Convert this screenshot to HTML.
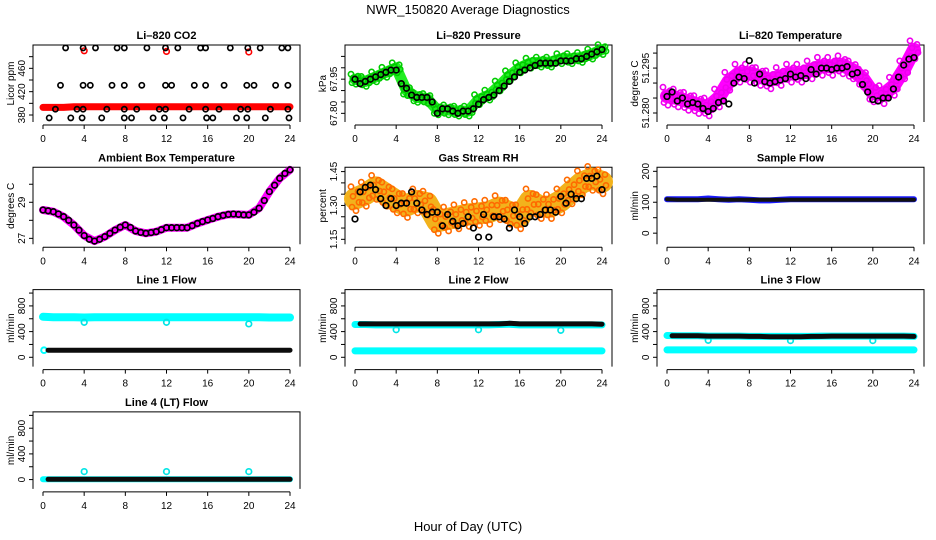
<!DOCTYPE html>
<html><head><meta charset="utf-8">
<style>
html,body{margin:0;padding:0;background:#fff;}
svg{display:block;font-family:"Liberation Sans",Arial,sans-serif;}
</style></head>
<body>
<svg id="fig" width="936" height="540" viewBox="0 0 936 540" xmlns="http://www.w3.org/2000/svg">
<text x="468" y="14" text-anchor="middle" font-size="13">NWR_150820  Average Diagnostics</text>
<text x="468" y="531" text-anchor="middle" font-size="13">Hour of Day (UTC)</text>
</svg>
<script>
// ---- shared data ----
const xTicks = [0,4,8,12,16,20,24];
const hours = [0,1,2,3,4,5,6,7,8,9,10,11,12,13,14,15,16,17,18,19,20,21,22,23,24];
const halfHours = [0,0.5,1,1.5,2,2.5,3,3.5,4,4.5,5,5.5,6,6.5,7,7.5,8,8.5,9,9.5,10,10.5,11,11.5,12,12.5,13,13.5,14,14.5,15,15.5,16,16.5,17,17.5,18,18.5,19,19.5,20,20.5,21,21.5,22,22.5,23,23.5,24];

// CO2
const co2Red = [393,393,393,394,394,394,394,394,394,394,394,394,394,394,394,394,394,394,394,394,394,394,394,394,394];
const co2RedSpikeT = [4,12,20];
const co2RedSpikeV = [490,489,488];
const co2BlackT = [2.2,3.9,5.1,7.2,7.9,10.1,11.9,13.1,15.3,15.8,18.2,19.9,21.1,23.2,23.8,
 1.7,3.9,4.6,6.7,7.9,9.6,11.9,12.5,14.7,15.8,17.6,19.8,20.5,22.6,23.8,
 1.2,3.3,3.9,6.2,7.9,9.1,11.3,11.9,14.2,15.8,17.1,19.2,19.9,22.1,23.8,
 0.6,2.7,3.8,5.7,7.9,8.6,10.7,11.8,13.6,15.9,16.5,18.8,19.8,21.6,23.9];
const co2BlackV = [495,495,495,495,495,495,495,495,495,495,495,495,495,495,495,
 431,431,431,431,431,431,431,431,431,431,431,431,431,431,431,
 390,390,390,390,390,390,390,390,390,390,390,390,390,390,390,
 375,375,375,375,375,375,375,375,375,375,375,375,375,375,375];

// Pressure
const presGreen = [67.95,67.94,67.96,67.98,68.00,67.90,67.87,67.865,67.815,67.815,67.81,67.81,67.86,67.88,67.92,67.965,68.00,68.02,68.025,68.025,68.04,68.04,68.045,68.06,68.08];
const presBlack = [67.95,67.93,67.94,67.95,67.96,67.97,67.98,67.99,67.99,67.93,67.91,67.88,67.87,67.87,67.87,67.85,67.80,67.82,67.82,67.81,67.80,67.81,67.81,67.82,67.84,67.86,67.87,67.88,67.90,67.92,67.94,67.96,67.98,67.99,68.00,68.01,68.02,68.02,68.02,68.02,68.03,68.03,68.03,68.04,68.04,68.05,68.06,68.07,68.08];

// Li-820 temperature
const tempMag = [51.2856,51.2850,51.2839,51.2828,51.2820,51.2850,51.2906,51.2933,51.2933,51.2922,51.2911,51.2922,51.2933,51.2933,51.2944,51.2956,51.2956,51.2961,51.2944,51.2917,51.2867,51.2861,51.2889,51.2944,51.3011];
const tempBlack = [51.2855,51.2870,51.2840,51.2850,51.2830,51.2835,51.2830,51.2815,51.2805,51.2815,51.2835,51.2840,51.2830,51.2900,51.2920,51.2915,51.2975,51.2900,51.2930,51.2905,51.2900,51.2905,51.2910,51.2915,51.2930,51.2920,51.2925,51.2915,51.2945,51.2930,51.2950,51.2950,51.2945,51.2950,51.2950,51.2955,51.2930,51.2935,51.2895,51.2870,51.2845,51.2840,51.2850,51.2850,51.2880,51.2920,51.2960,51.2980,51.2985];

// Ambient box temperature
const ambMag = [28.57,28.48,28.2,27.74,27.15,26.85,27.09,27.46,27.74,27.41,27.28,27.37,27.59,27.59,27.59,27.83,28.02,28.2,28.33,28.33,28.3,28.67,29.59,30.33,30.8];
const ambBlack = [28.57,28.53,28.48,28.35,28.2,28.0,27.74,27.45,27.15,26.95,26.85,26.95,27.09,27.28,27.46,27.62,27.74,27.6,27.41,27.33,27.28,27.32,27.37,27.48,27.59,27.59,27.59,27.59,27.59,27.7,27.83,27.93,28.02,28.1,28.2,28.27,28.33,28.35,28.33,28.3,28.3,28.45,28.67,29.1,29.59,29.95,30.33,30.6,30.8];

// Gas stream RH
const rhOrange = [1.33,1.35,1.38,1.35,1.32,1.30,1.32,1.31,1.23,1.24,1.25,1.26,1.265,1.27,1.29,1.27,1.25,1.32,1.295,1.295,1.32,1.36,1.40,1.42,1.405];
const rhBlack = [1.24,1.36,1.38,1.39,1.37,1.33,1.30,1.33,1.30,1.31,1.31,1.36,1.31,1.28,1.26,1.27,1.27,1.21,1.26,1.23,1.21,1.22,1.25,1.20,1.16,1.26,1.16,1.25,1.25,1.24,1.20,1.28,1.25,1.22,1.25,1.25,1.26,1.28,1.28,1.27,1.34,1.31,1.35,1.33,1.33,1.42,1.42,1.43,1.37];

// Sample flow
const sampleBlue = [110,110,110,110,112,110,108,110,108,106,106,108,110,110,110,110,110,110,110,110,110,110,110,110,110];
const sampleBlack = [110,108,108,108,108,108,108,108,108,108,108,108,108,108,108,108,108,108,108,108,108,108,108,108,108];

// Flows (mL/min)
const line1Cyan = [630,625,625,625,620,625,625,625,625,625,625,625,625,625,625,625,625,625,625,625,625,625,620,620,620];
const line1CyanLow = [110];
const line1Black = [110,110,110,110,110,110,110,110,110,110,110,110,110,110,110,110,110,110,110,110,110,110,110,110,110];
const line2Cyan = [510,510,505,505,505,505,505,505,505,505,505,505,505,505,510,515,505,505,505,505,505,505,505,505,505];
const line2CyanLow = [100,100,100,100,100,100,100,100,100,100,100,100,100,100,100,100,100,100,100,100,100,100,100,100,100];
const line2Black = [520,520,520,520,520,520,520,520,520,520,520,520,520,520,520,530,520,520,520,520,520,520,520,520,515];
const line3Cyan = [340,335,335,335,330,330,330,330,325,325,325,325,325,325,325,330,330,330,330,330,330,330,330,330,325];
const line3CyanLow = [115,115,115,115,115,115,115,115,115,115,115,115,115,115,115,115,115,115,115,115,115,115,115,115,115];
const line3Black = [335,335,335,335,330,330,330,330,325,325,320,320,320,320,325,325,330,330,330,330,330,330,330,330,325];
const line4Cyan = [5,5,5,5,5,5,5,5,5,5,5,5,5,5,5,5,5,5,5,5,5,5,5,5,5];
const line4Black = [5,5,5,5,5,5,5,5,5,5,5,5,5,5,5,5,5,5,5,5,5,5,5,5,5];
const dipT = [4,12,20];
const line1Dip = [545,545,520];
const line2Dip = [430,430,420];
const line3Dip = [265,260,260];
const line4Dip = [125,125,125];

// ---- layout ----
const NS = "http://www.w3.org/2000/svg";
const svg = document.getElementById('fig');
const colL = [33,345,657];
const boxW = 267, boxH = 77;
function rowTop(r){ return 45 + r*122.3; }

function mk(tag, attrs, parent){
  const e = document.createElementNS(NS, tag);
  for (const k in attrs) e.setAttribute(k, attrs[k]);
  (parent||svg).appendChild(e);
  return e;
}

function panel(col, row, title, ylab, ymin, ymax, yTicks, yLabels, name){
  const g = mk('g', {});
  
  
  const L = colL[col], T = rowTop(row), R = L + boxW, B = T + boxH;
  const xs = t => L + 10 + t * (247/24);
  const ys = v => B - (v - ymin) / (ymax - ymin) * boxH;
  // box: left, top, right
  const box = mk('path', {d:`M${L},${B} L${L},${T} L${R},${T} L${R},${B}`, fill:'none', stroke:'#000', 'stroke-width':1}, g);
  
  
  const tt = mk('text', {x:(L+R)/2, y:T-6, 'text-anchor':'middle', 'font-size':11, 'font-weight':'bold'}, g);
  tt.textContent = title;
  
  
  // x axis
  const ax = B + 3;
  const xa = mk('g', {}, g);
  
  
  mk('line', {x1:xs(xTicks[0]), x2:xs(xTicks[xTicks.length-1]), y1:ax, y2:ax, stroke:'#000'}, xa);
  xTicks.forEach(t => {
    mk('line', {x1:xs(t), x2:xs(t), y1:ax, y2:ax+4, stroke:'#000'}, xa);
    const lb = mk('text', {x:xs(t), y:ax+17, 'text-anchor':'middle', 'font-size':10}, xa);
    lb.textContent = t;
    
    
  });
  // y axis
  const ya = mk('g', {}, g);
  
  
  mk('line', {x1:L, x2:L, y1:ys(yTicks[0]), y2:ys(yTicks[yTicks.length-1]), stroke:'#000'}, ya);
  yTicks.forEach(v => {
    mk('line', {x1:L-4, x2:L, y1:ys(v), y2:ys(v), stroke:'#000'}, ya);
  });
  yLabels.forEach(v => {
    const lb = mk('text', {x:0, y:0, 'text-anchor':'middle', 'font-size':10, transform:`translate(${L-8},${ys(v)}) rotate(-90)`}, ya);
    lb.textContent = String(v);
    
    
  });
  const yt = mk('text', {x:0, y:0, 'text-anchor':'middle', 'font-size':10, transform:`translate(${L-19},${(T+B)/2}) rotate(-90)`}, g);
  yt.textContent = ylab;
  
  
  const clip = mk('g', {}, g);
  return {g: clip, xs, ys};
}

function band(p, ts, vs, color, w, name){
  const pts = ts.map((t,i) => `${p.xs(t).toFixed(1)},${p.ys(vs[i]).toFixed(1)}`).join(' ');
  const pl = mk('polyline', {points:pts, fill:'none', stroke:color, 'stroke-width':w, 'stroke-linejoin':'round', 'stroke-linecap':'round'}, p.g);
  
  
}
function dots(p, ts, vs, color, r, sw, name){
  const grp = mk('g', {}, p.g);
  
  
  ts.forEach((t,i) => {
    mk('circle', {cx:p.xs(t).toFixed(1), cy:p.ys(vs[i]).toFixed(1), r:r, fill:'none', stroke:color, 'stroke-width':sw}, grp);
  });
}
function texture(p, ts, vs, color, spread, name){
  const offs = [[-4,-spread],[3,-spread*0.6],[-2,-spread*0.2],[4,spread*0.3],[-3,spread*0.7],[1,spread]];
  const grp = mk('g', {}, p.g);
  
  
  ts.forEach((t,i) => {
    offs.forEach(o => {
      mk('circle', {cx:(p.xs(t)+o[0]).toFixed(1), cy:(p.ys(vs[i])+o[1]).toFixed(1), r:2.6, fill:'none', stroke:color, 'stroke-width':1.6}, grp);
    });
  });
}

// Row 1
let p = panel(0,0,'Li\u2013820 CO2','Licor ppm',368,500,[380,400,420,440,460,480],[380,420,460],'co2-panel');
band(p, hours, co2Red, '#ff0000', 7, 'co2-red-series');
dots(p, co2RedSpikeT, co2RedSpikeV, '#ff0000', 2.8, 1.6, 'co2-red-spikes');
dots(p, co2BlackT, co2BlackV, '#000', 2.6, 1.7, 'co2-black-series');

p = panel(1,0,'Li\u2013820 Pressure','kPa',67.762,68.10,[67.80,67.85,67.90,67.95,68.00,68.05],['67.80','67.95'],'pressure-panel');
band(p, hours, presGreen, '#22ee22', 11, 'pressure-green-series');
texture(p, hours, presGreen, '#00cc00', 5, 'pressure-green-points');
dots(p, halfHours, presBlack, '#000', 2.8, 1.7, 'pressure-black-series');

p = panel(2,0,'Li\u2013820 Temperature','degrees C',51.277,51.3027,[51.280,51.285,51.290,51.295,51.300],['51.280','51.295'],'temperature-panel');
band(p, hours, tempMag, '#ff00ff', 14, 'temperature-magenta-series');
texture(p, hours, tempMag, '#ee00ee', 9, 'temperature-magenta-points');
dots(p, halfHours, tempBlack, '#000', 2.8, 1.7, 'temperature-black-series');

// Row 2
p = panel(0,1,'Ambient Box Temperature','degrees C',26.67,30.94,[27,28,29,30],[27,29],'ambient-panel');
band(p, hours, ambMag, '#ff00ff', 8, 'ambient-magenta-series');
dots(p, halfHours, ambBlack, '#000', 2.8, 1.7, 'ambient-black-series');

p = panel(1,1,'Gas Stream RH','percent',1.128,1.469,[1.15,1.20,1.25,1.30,1.35,1.40,1.45],['1.15','1.30','1.45'],'rh-panel');
band(p, hours, rhOrange, '#f2b21c', 22, 'rh-orange-series');
texture(p, hours, rhOrange, '#ff6a00', 12, 'rh-orange-points');
dots(p, halfHours, rhBlack, '#000', 2.8, 1.7, 'rh-black-series');

p = panel(2,1,'Sample Flow','ml/min',-36,213,[0,50,100,150,200],[0,100,200],'sample-flow-panel');
band(p, hours, sampleBlue, '#1a1aff', 6, 'sample-blue-series');
band(p, hours, sampleBlack, '#111', 4, 'sample-black-series');

// Row 3
const flowTicks = [0,200,400,600,800,1000];
const flowLabels = [0,400,800];
p = panel(0,2,'Line 1 Flow','ml/min',-145,1054,flowTicks,flowLabels,'line1-flow-panel');
band(p, hours, line1Cyan, '#00ffff', 8, 'line1-cyan-series');
dots(p, [0.1], line1CyanLow, '#00ffff', 2.8, 2, 'line1-cyan-low');
dots(p, dipT, line1Dip, '#00e5e5', 2.8, 1.7, 'line1-cyan-dips');
band(p, hours.slice(1).concat([24]).map((h,i)=>i===0?0.5:h), line1Black, '#0c0c0c', 5, 'line1-black-series');

p = panel(1,2,'Line 2 Flow','ml/min',-145,1054,flowTicks,flowLabels,'line2-flow-panel');
band(p, hours, line2CyanLow, '#00ffff', 7, 'line2-cyan-low-series');
band(p, hours, line2Cyan, '#00ffff', 7, 'line2-cyan-series');
dots(p, dipT, line2Dip, '#00e5e5', 2.8, 1.7, 'line2-cyan-dips');
band(p, hours.map((h,i)=>i===0?0.5:h), line2Black, '#0c0c0c', 5, 'line2-black-series');

p = panel(2,2,'Line 3 Flow','ml/min',-145,1054,flowTicks,flowLabels,'line3-flow-panel');
band(p, hours, line3CyanLow, '#00ffff', 7, 'line3-cyan-low-series');
band(p, hours, line3Cyan, '#00ffff', 7, 'line3-cyan-series');
dots(p, dipT, line3Dip, '#00e5e5', 2.8, 1.7, 'line3-cyan-dips');
band(p, hours.map((h,i)=>i===0?0.5:h), line3Black, '#0c0c0c', 5, 'line3-black-series');

// Row 4
p = panel(0,3,'Line 4 (LT) Flow','ml/min',-145,1054,flowTicks,flowLabels,'line4-flow-panel');
band(p, hours, line4Cyan, '#00ffff', 6, 'line4-cyan-series');
dots(p, dipT, line4Dip, '#00e5e5', 2.8, 1.7, 'line4-cyan-spikes');
band(p, hours.map((h,i)=>i===0?0.5:h), line4Black, '#0c0c0c', 5, 'line4-black-series');
</script>
</body></html>
